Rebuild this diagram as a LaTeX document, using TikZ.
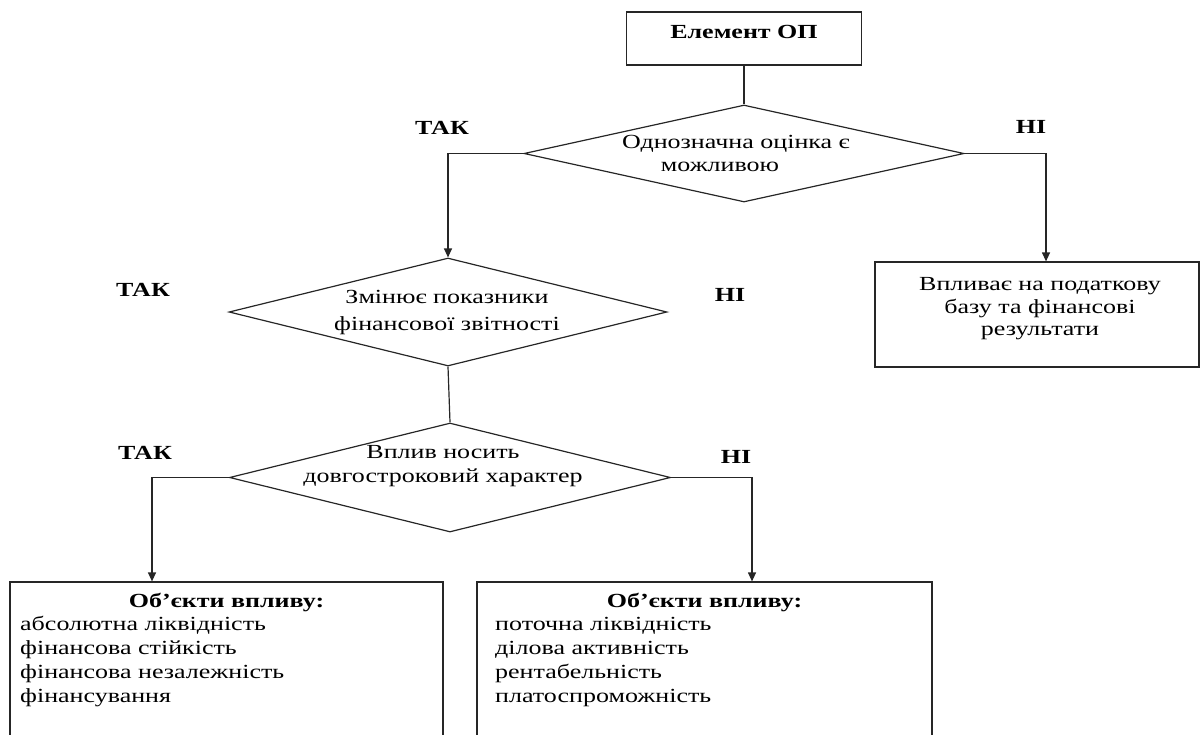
\documentclass[tikz,border=0pt]{standalone}
\usepackage{fontspec}
\setmainfont{Liberation Serif}[FakeStretch=1.3]
\usetikzlibrary{shapes.geometric,arrows.meta}
\begin{document}
\begin{tikzpicture}[x=1pt,y=-1pt,
  line/.style={draw=black!85, line width=1.2pt},
  arr/.style={line, -{Triangle[length=9pt,width=8pt]}},
  box/.style={draw=black!85, line width=1.2pt, rectangle, inner sep=0pt},
  dia/.style={draw=black!85, line width=1.2pt, diamond, inner sep=0pt, aspect=4},
  txt/.style={inner sep=0pt, anchor=base},
  lbl/.style={inner sep=0pt, font=\fontsize{20}{24}\selectfont\bfseries, anchor=base},
]
\useasboundingbox (0,0) rectangle (1202,734);
\clip (0,0) rectangle (1202,734);

% top box
\node[box, minimum width=235pt, minimum height=53pt] (b0) at (744,38.5) {};
\node[lbl] (b0t) at (744,38.5) {Елемент ОП};

% diamonds
\node[dia, minimum width=440pt, minimum height=97pt] (d1) at (744,153.5) {};
\node[txt, font=\fontsize{20}{23}\selectfont] (d1t) at (736,148.5)
  {\begin{tabular}[t]{@{}c@{}}Однозначна оцінка є\\ можливою\hspace*{32pt}\end{tabular}};

\node[dia, minimum width=438pt, minimum height=108pt] (d2) at (448,312) {};
\node[txt, font=\fontsize{20}{27}\selectfont] (d2t) at (447,303.5)
  {\begin{tabular}[t]{@{}c@{}}Змінює показники\\ фінансової звітності\end{tabular}};

\node[dia, minimum width=441pt, minimum height=109pt] (d3) at (450,477.5) {};
\node[txt, font=\fontsize{20}{24}\selectfont] (d3t) at (443,458.5)
  {\begin{tabular}[t]{@{}c@{}}Вплив носить\\ довгостроковий характер\end{tabular}};

% right box
\node[box, minimum width=324pt, minimum height=105pt] (br) at (1037,314.5) {};
\node[txt, font=\fontsize{20}{22.5}\selectfont] (brt) at (1040,290.5)
  {\begin{tabular}[t]{@{}c@{}}Впливає на податкову\\ базу та фінансові\\ результати\end{tabular}};

% bottom boxes
\node[box, minimum width=433pt, minimum height=178pt] (bl) at (226.5,671) {};
\node[lbl] (blh) at (226.5,607.5) {Об’єкти впливу:};
\node[txt, anchor=base west, font=\fontsize{20}{24}\selectfont] (blt) at (20,630.5)
  {\begin{tabular}[t]{@{}l@{}}абсолютна ліквідність\\ фінансова стійкість\\ фінансова незалежність\\ фінансування\end{tabular}};

\node[box, minimum width=455pt, minimum height=178pt] (bm) at (704.5,671) {};
\node[lbl] (bmh) at (704.5,607.5) {Об’єкти впливу:};
\node[txt, anchor=base west, font=\fontsize{20}{24}\selectfont] (bmt) at (495,630.5)
  {\begin{tabular}[t]{@{}l@{}}поточна ліквідність\\ ділова активність\\ рентабельність\\ платоспроможність\end{tabular}};

% labels
\node[lbl] (y1) at (442,134.5) {ТАК};
\node[lbl] (n1) at (1031,133.5) {НІ};
\node[lbl] (y2) at (143,296.5) {ТАК};
\node[lbl] (n2) at (730,301.5) {НІ};
\node[lbl] (y3) at (145,459.5) {ТАК};
\node[lbl] (n3) at (736,463.5) {НІ};

% connectors
\draw[line] (b0.south) -- (d1.north);
\draw[arr] (d1.west) -| (d2.north);
\draw[arr] (d1.east) -| ([xshift=9pt]br.north);
\draw[line] (d2.south) -- (d3.north);
\draw[arr] (d3.west) -| ([xshift=-74.5pt]bl.north);
\draw[arr] (d3.east) -| ([xshift=47.5pt]bm.north);
\end{tikzpicture}
\end{document}
